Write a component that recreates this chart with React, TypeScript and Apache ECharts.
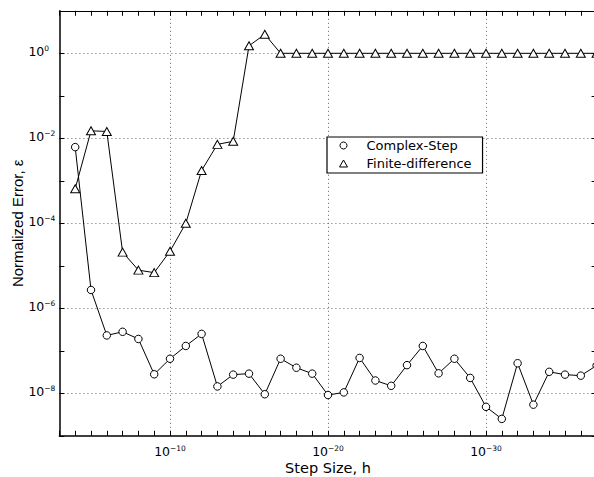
import React, { useEffect, useRef } from "react";
import * as echarts from "echarts";

const stepSizes = [
  1e-4, 1e-5, 1e-6, 1e-7, 1e-8, 1e-9, 1e-10, 1e-11, 1e-12, 1e-13, 1e-14, 1e-15,
  1e-16, 1e-17, 1e-18, 1e-19, 1e-20, 1e-21, 1e-22, 1e-23, 1e-24, 1e-25, 1e-26,
  1e-27, 1e-28, 1e-29, 1e-30, 1e-31, 1e-32, 1e-33, 1e-34, 1e-35, 1e-36, 1e-37,
];

const complexStep = [
  6.2e-3, 2.7e-6, 2.3e-7, 2.8e-7, 1.9e-7, 2.8e-8, 6.5e-8, 1.3e-7, 2.5e-7, 1.45e-8,
  2.75e-8, 2.9e-8, 9.5e-9, 6.5e-8, 4.0e-8, 2.9e-8, 9.1e-9, 1.05e-8, 6.8e-8, 2.0e-8,
  1.5e-8, 4.6e-8, 1.3e-7, 2.95e-8, 6.5e-8, 2.3e-8, 4.8e-9, 2.5e-9, 5.1e-8, 5.4e-9,
  3.2e-8, 2.75e-8, 2.6e-8, 4.5e-8,
];

const finiteDifference = [
  6.5e-4, 1.5e-2, 1.45e-2, 2.1e-5, 7.9e-6, 6.9e-6, 2.2e-5, 1.0e-4, 1.75e-3, 7.2e-3,
  8.5e-3, 1.5, 2.8, 1, 1, 1, 1, 1, 1, 1, 1, 1, 1, 1, 1, 1, 1, 1, 1, 1, 1, 1, 1, 1,
];

const seriesNames = ["Complex-Step", "Finite-difference"];
const xTitle = "Step Size, h";
const yTitle = "Normalized Error, \u03b5";

// axis extents as decade exponents
const xExpMin = -37;
const xExpMax = -3;
const yExpMin = -9;
const yExpMax = 1;

const WIDE = "DejaVu Sans";
const NARROW = "Liberation Sans";

const supLabel = (v: number) => `{b|10}{s|${String(v).replace("-", "\u2212")}}`;

const labelRich = {
  b: { fontSize: 12.5, lineHeight: 13, fontFamily: WIDE, color: "#000", verticalAlign: "bottom", padding: [4, 0, 0, 0] },
  s: { fontSize: 7.5, lineHeight: 8, fontFamily: WIDE, color: "#000", verticalAlign: "top" },
};

const markerStyle = { color: "#fff", borderColor: "#000", borderWidth: 1 };

export default function App() {
  const ref = useRef<HTMLDivElement>(null);
  useEffect(() => {
    const chart = echarts.init(ref.current!, undefined, { renderer: "svg" });
    const gridColor = "#666";
    const tickStyle = { show: true, inside: true, length: 5, lineStyle: { color: "#000", width: 1 } };
    const xGridColors = Array.from({ length: 10 }, (_, i) => (i === 7 ? gridColor : "rgba(0,0,0,0)"));
    chart.setOption({
      animation: false,
      textStyle: { fontFamily: WIDE },
      grid: { left: 59.4, top: 10.8, width: 537.2, height: 425, outerBoundsMode: "none", containLabel: false },
      legend: {
        orient: "vertical",
        left: 327,
        top: 137,
        padding: [2, 11, 3, 12],
        itemGap: 5,
        itemWidth: 8,
        itemHeight: 7,
        backgroundColor: "#fff",
        borderColor: "#000",
        borderWidth: 1.2,
        textStyle: { fontSize: 13, color: "#000", fontFamily: WIDE, padding: [0, 0, 0, 14] },
        data: [
          { name: seriesNames[0], icon: "circle" },
          { name: seriesNames[1], icon: "triangle" },
        ],
        itemStyle: markerStyle,
      },
      xAxis: [
        { type: "log", min: Math.pow(10, xExpMin), max: Math.pow(10, xExpMax), inverse: true, show: false },
        {
          type: "value",
          position: "bottom",
          min: xExpMin,
          max: xExpMax,
          interval: 1,
          inverse: true,
          axisLine: { show: true, onZero: false, lineStyle: { color: "#000", width: 1.5 } },
          axisTick: tickStyle,
          axisLabel: {
            margin: 9,
            formatter: (v: number) => (v % 10 === 0 ? supLabel(v) : ""),
            rich: labelRich,
          },
          splitLine: { show: true, lineStyle: { color: xGridColors, type: [1, 3], width: 1 } },
          name: xTitle,
          nameLocation: "middle",
          nameGap: 25.5,
          nameMoveOverlap: false,
          nameTextStyle: { fontSize: 14.5, lineHeight: 14, color: "#000", fontFamily: WIDE },
        },
        {
          type: "value",
          position: "top",
          min: xExpMin,
          max: xExpMax,
          interval: 1,
          inverse: true,
          axisLine: { show: true, onZero: false, lineStyle: { color: "#000", width: 1.2 } },
          axisTick: tickStyle,
          axisLabel: { show: false },
          splitLine: { show: false },
        },
      ],
      yAxis: [
        { type: "log", min: Math.pow(10, yExpMin), max: Math.pow(10, yExpMax), show: false },
        {
          type: "value",
          position: "left",
          min: yExpMin,
          max: yExpMax,
          interval: 1,
          axisLine: { show: true, onZero: false, lineStyle: { color: "#000", width: 1.5 } },
          axisTick: tickStyle,
          axisLabel: {
            margin: 31,
            align: "left",
            padding: [0, 0, 4, 0],
            formatter: (v: number) => (v % 2 === 0 && v <= 0 ? supLabel(v) : ""),
            rich: labelRich,
          },
          splitLine: {
            show: true,
            lineStyle: { color: ["rgba(0,0,0,0)", gridColor], type: [1, 3], width: 1 },
          },
          name: yTitle,
          nameLocation: "middle",
          nameGap: 34,
          nameRotate: 90,
          nameMoveOverlap: false,
          nameTextStyle: { fontSize: 15, color: "#000", fontFamily: NARROW },
        },
        {
          type: "value",
          position: "right",
          min: yExpMin,
          max: yExpMax,
          interval: 1,
          axisLine: { show: true, onZero: false, lineStyle: { color: "#000", width: 1.2 } },
          axisTick: tickStyle,
          axisLabel: { show: false },
          splitLine: { show: false },
        },
      ],
      series: [
        {
          name: seriesNames[0],
          type: "line",
          xAxisIndex: 0,
          yAxisIndex: 0,
          data: stepSizes.map((h, i) => [h, complexStep[i]]),
          symbol: "circle",
          symbolSize: 7.5,
          lineStyle: { color: "#000", width: 1 },
          itemStyle: markerStyle,
          clip: false,
          z: 5,
        },
        {
          name: seriesNames[1],
          type: "line",
          xAxisIndex: 0,
          yAxisIndex: 0,
          data: stepSizes.map((h, i) => [h, finiteDifference[i]]),
          symbol: "triangle",
          symbolSize: [9, 8],
          lineStyle: { color: "#000", width: 1 },
          itemStyle: markerStyle,
          clip: false,
          z: 5,
        },
      ],
    });
    return () => chart.dispose();
  }, []);
  return (
    <div
      ref={ref}
      style={{ position: "absolute", left: 0, top: 0, width: 600, height: 477, background: "#fff" }}
    />
  );
}
